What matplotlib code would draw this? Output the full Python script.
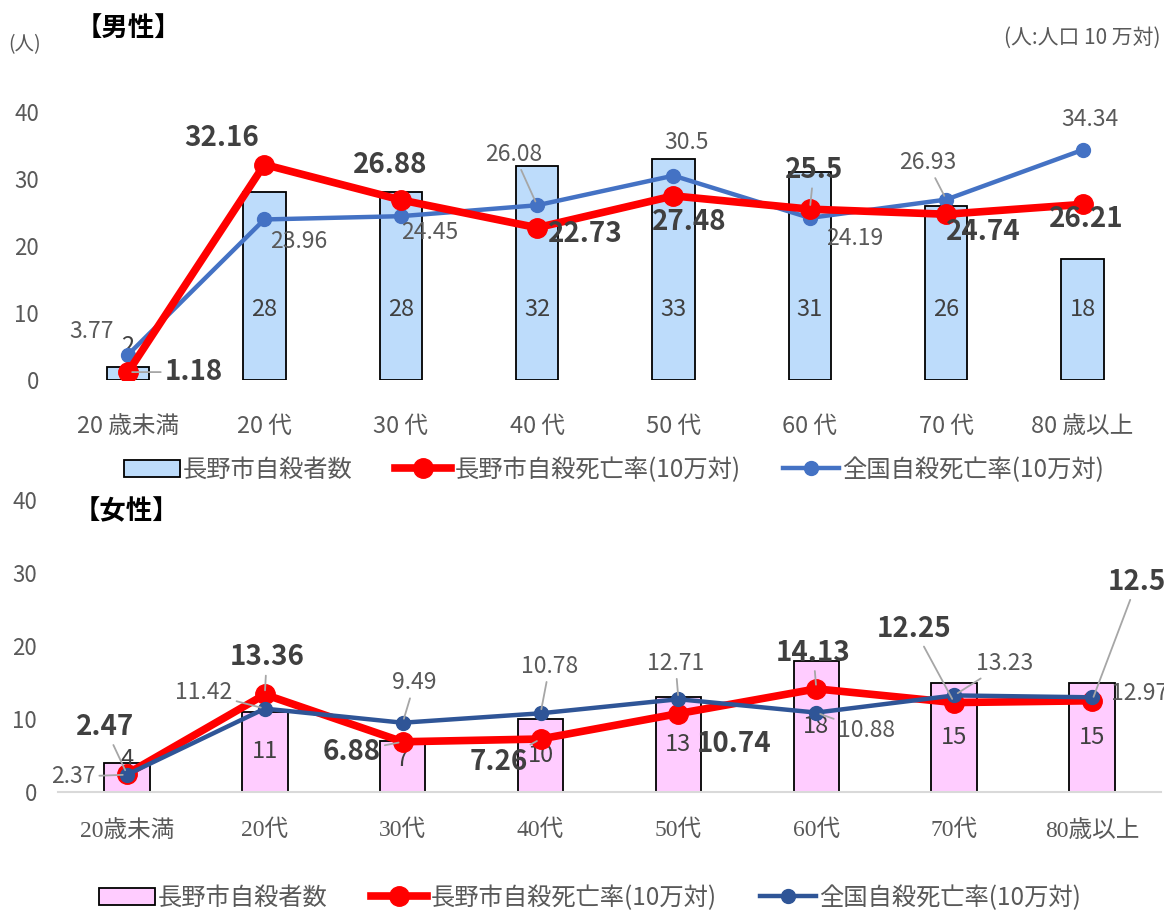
import numpy as np
import matplotlib.pyplot as plt
from matplotlib.patches import Patch
from matplotlib.lines import Line2D

plt.rcParams['font.family'] = ['Noto Sans CJK JP', 'DejaVu Sans']

ages_m = ['20 歳未満', '20 代', '30 代', '40 代', '50 代', '60 代', '70 代', '80 歳以上']
ages_f = ['20歳未満', '20代', '30代', '40代', '50代', '60代', '70代', '80歳以上']

male_count = [2, 28, 28, 32, 33, 31, 26, 18]
male_city = [1.18, 32.16, 26.88, 22.73, 27.48, 25.5, 24.74, 26.21]
male_nation = [3.77, 23.96, 24.45, 26.08, 30.5, 24.19, 26.93, 34.34]

female_count = [4, 11, 7, 10, 13, 18, 15, 15]
female_city = [2.47, 13.36, 6.88, 7.26, 10.74, 14.13, 12.25, 12.5]
female_nation = [2.37, 11.42, 9.49, 10.78, 12.71, 10.88, 13.23, 12.97]

legend_labels = ['長野市自殺者数', '長野市自殺死亡率(10万対)', '全国自殺死亡率(10万対)']

# label offsets in pixels (dx, dy) and whether a leader line is drawn
m_city_off = [(66, 0), (-43, 27), (-11, 35), (48, -6), (16, -26), (4, 39), (37, -18), (4, -15)]
m_city_lead = [True, False, False, False, False, True, False, False]
m_nat_off = [(-36, 23), (34, -22), (29, -16), (-23, 51), (13, 33), (45, -21), (-19, 37), (7, 30)]
m_nat_lead = [False, False, False, True, False, False, True, False]

f_city_off = [(-22, 47), (2, 37), (-51, -10), (-42, -23), (56, -30), (-3, 36), (-40, 74), (45, 119)]
f_city_lead = [True, True, True, True, False, True, True, True]
f_nat_off = [(-54, -2), (-61, 16), (12, 40), (9, 47), (-3, 36), (50, -18), (50, 32), (48, 4)]
f_nat_lead = [True, True, True, True, True, True, True, False]

W, H = 1164, 914
fig = plt.figure(figsize=(W / 100, H / 100), dpi=100)
ax_m = fig.add_axes([59.8 / W, (H - 380) / H, 1091 / W, 268 / H])
ax_f = fig.add_axes([58 / W, (H - 792) / H, 1103 / W, 292 / H])

GREY = '#595959'
DARK = '#404040'
LEAD = '#A6A6A6'


def put_labels(ax, x, vals, offs, leads, size, weight, color):
    for xi, v, (dx, dy), ld in zip(x, vals, offs, leads):
        arrow = dict(arrowstyle='-', color=LEAD, lw=1.3, shrinkA=1, shrinkB=3) if ld else None
        ax.annotate(f'{v:g}', xy=(xi, v), xytext=(dx, dy), textcoords='offset pixels',
                    ha='center', va='center', fontsize=size, fontweight=weight,
                    color=color, arrowprops=arrow, zorder=6, annotation_clip=False)


def panel(ax, cats, count, city, nation, bar_color, bar_w, nat_color, red_top,
          city_off, city_lead, nat_off, nat_lead, bar_lab_y, tick_font, tick_pad):
    x = np.arange(len(cats))
    ax.bar(x, count, bar_w, color=bar_color, edgecolor='black', linewidth=1.3, zorder=1)
    z_red, z_nat = (4, 3) if red_top else (3, 4)
    ax.plot(x, nation, color=nat_color, lw=3.2, marker='o', ms=10, zorder=z_nat)
    ax.plot(x, city, color='#FF0000', lw=5.5, marker='o', ms=14, zorder=z_red)
    for xi, c, yl in zip(x, count, bar_lab_y):
        ax.text(xi, yl, str(c), ha='center', va='center', fontsize=17, color=DARK, zorder=2)
    put_labels(ax, x, city, city_off, city_lead, 20, 'bold', DARK)
    put_labels(ax, x, nation, nat_off, nat_lead, 16.5, 'normal', GREY)
    ax.set_xlim(-0.5, len(cats) - 0.5)
    ax.set_ylim(0, 40)
    ax.set_yticks([0, 10, 20, 30, 40])
    ax.set_xticks(x)
    ax.set_xticklabels(cats, family=tick_font, fontsize=17, color=GREY)
    ax.tick_params(axis='x', length=0, pad=tick_pad)
    ax.tick_params(axis='y', length=0, pad=15, labelsize=16, labelcolor=GREY)
    for s in ax.spines.values():
        s.set_visible(False)


m_bar_y = [c + 3 if c < 5 else 10.5 for c in male_count]
f_bar_y = [max(c / 2, 4.4) for c in female_count]

panel(ax_m, ages_m, male_count, male_city, male_nation, '#BDDCFB', 0.31, '#4472C4', True,
      m_city_off, m_city_lead, m_nat_off, m_nat_lead, m_bar_y,
      ['Noto Sans CJK JP'], 25)
panel(ax_f, ages_f, female_count, female_city, female_nation, '#FFCCFF', 0.33, '#2F5597', False,
      f_city_off, f_city_lead, f_nat_off, f_nat_lead, f_bar_y,
      ['Liberation Serif', 'Noto Sans CJK JP'], 20)
ax_f.spines['bottom'].set_visible(True)
ax_f.spines['bottom'].set_color('#D9D9D9')
ax_f.spines['bottom'].set_linewidth(1.5)

# headers
fig.text(76 / W, 1 - 28 / H, '【男性】', fontsize=19, fontweight='bold', color='black', va='center')
fig.text(74 / W, 1 - 512 / H, '【女性】', fontsize=19, fontweight='bold', color='black', va='center')
fig.text(8 / W, 1 - 45 / H, '(人)', fontsize=14, color=GREY, va='center')
fig.text(1160 / W, 1 - 38 / H, '(人:人口 10 万対)', fontsize=15, color=GREY, va='center', ha='right')


def legend(bar_color, nat_color, cx, cy, colsp):
    handles = [Patch(facecolor=bar_color, edgecolor='black', linewidth=1.3),
               Line2D([], [], color='#FF0000', lw=5.5, marker='o', ms=14),
               Line2D([], [], color=nat_color, lw=3.2, marker='o', ms=10)]
    fig.legend(handles, legend_labels, loc='center', bbox_to_anchor=(cx, cy), ncol=3,
               frameon=False, prop={'size': 17.5},
               labelcolor=GREY, handlelength=2.3, handletextpad=0.12, columnspacing=colsp)


legend('#BDDCFB', '#4472C4', 614 / W, 1 - 470 / H, 1.75)
legend('#FFCCFF', '#2F5597', 590 / W, 1 - 898 / H, 1.8)

fig.savefig('out.png', dpi=100)
